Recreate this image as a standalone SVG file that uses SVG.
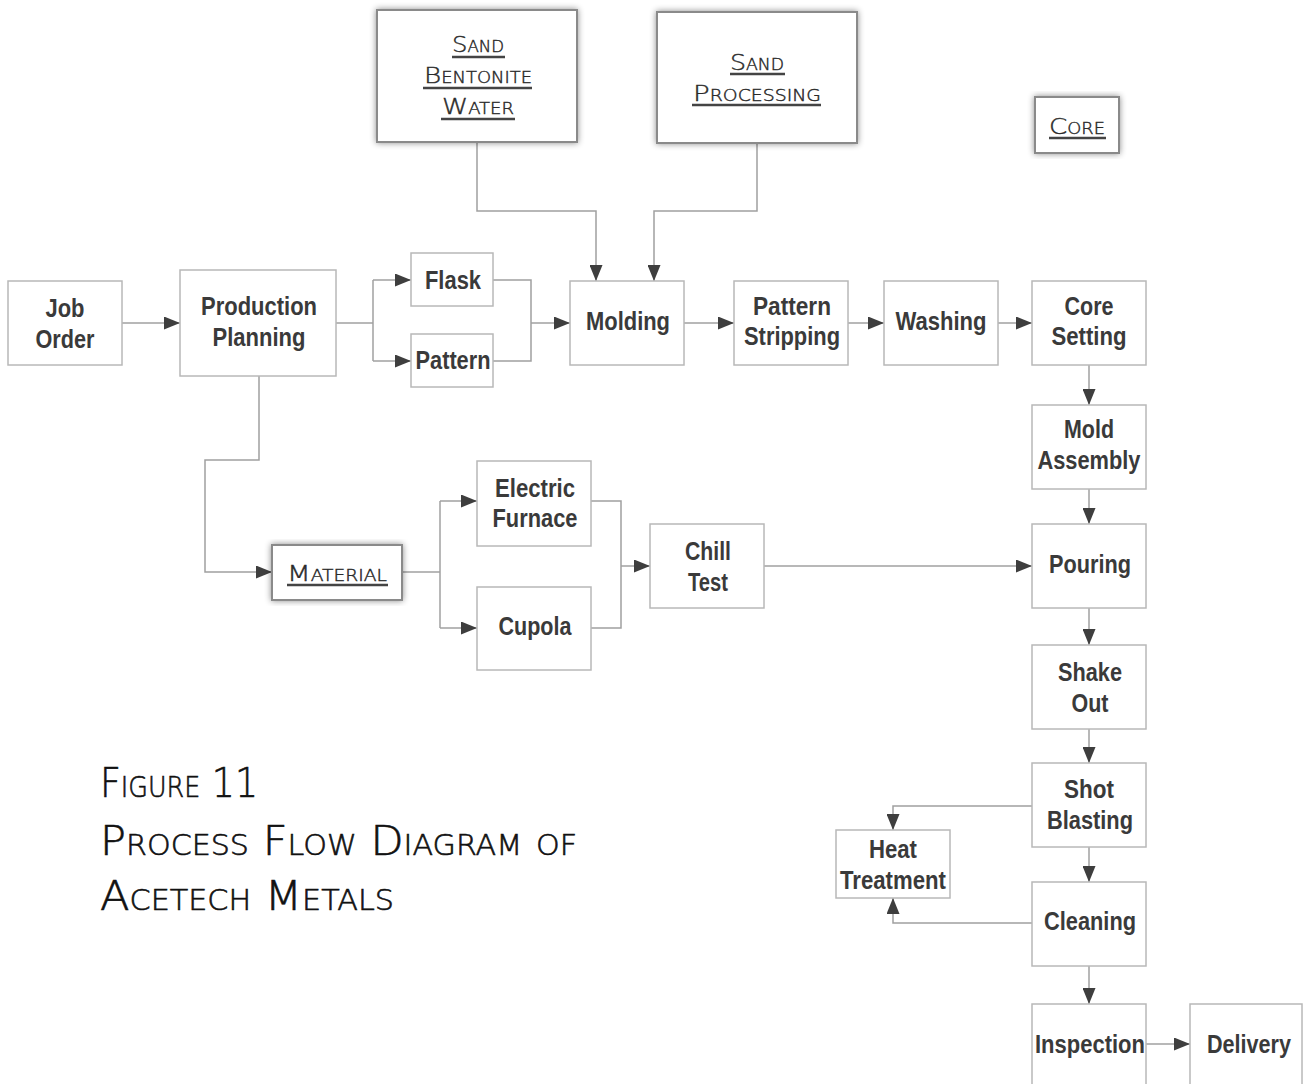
<svg xmlns="http://www.w3.org/2000/svg" width="1312" height="1084" viewBox="0 0 1312 1084">
  <style>
    .box { fill: #ffffff; stroke: #b8b8b8; stroke-width: 1.5; }
    .sbox { fill: #ffffff; stroke: #8a8a8a; stroke-width: 2; }
    .lbl { font-family: "Liberation Sans", Arial, sans-serif; font-weight: bold; font-size: 26px; fill: #3a3a3a; text-anchor: middle; }
    .hand { font-family: "DejaVu Sans", "Liberation Sans", sans-serif; font-weight: 200; font-variant: small-caps; fill: #2a2a2a; stroke: #2a2a2a; stroke-width: 0.4; text-anchor: middle; }
    .ul { stroke: #444444; stroke-width: 2.5; }
    .cap { font-family: "DejaVu Sans", "Liberation Sans", sans-serif; font-weight: 200; font-variant: small-caps; font-size: 40px; fill: #111111; stroke: #111111; stroke-width: 0.6; }
    .wire { fill: none; stroke: #a0a0a0; stroke-width: 1.5; }
  </style>
  <defs>
    <marker id="arr" viewBox="0 0 16 13" refX="16" refY="6.5" markerWidth="16" markerHeight="13" markerUnits="userSpaceOnUse" orient="auto">
      <path d="M0,0 L16,6.5 L0,13 Z" fill="#3e3e3e"/>
    </marker>
    <filter id="shade" x="-10%" y="-10%" width="120%" height="120%">
      <feDropShadow dx="0" dy="0" stdDeviation="3" flood-color="#000000" flood-opacity="0.45"/>
    </filter>
  </defs>

  <rect width="1312" height="1084" fill="#ffffff"/>

  <!-- connectors -->
  <g id="connectors">
    <line class="wire" x1="122" y1="323" x2="180" y2="323" marker-end="url(#arr)"/>
    <path class="wire" d="M336,323 H373"/>
    <path class="wire" d="M373,280 V361"/>
    <line class="wire" x1="373" y1="280" x2="411" y2="280" marker-end="url(#arr)"/>
    <line class="wire" x1="373" y1="361" x2="411" y2="361" marker-end="url(#arr)"/>
    <path class="wire" d="M493,280 H531 V361 H493"/>
    <line class="wire" x1="531" y1="323" x2="570" y2="323" marker-end="url(#arr)"/>
    <path class="wire" d="M477,142 V211 H596 V281" marker-end="url(#arr)"/>
    <path class="wire" d="M757,143 V211 H654 V281" marker-end="url(#arr)"/>
    <line class="wire" x1="684" y1="323" x2="734" y2="323" marker-end="url(#arr)"/>
    <line class="wire" x1="848" y1="323" x2="884" y2="323" marker-end="url(#arr)"/>
    <line class="wire" x1="998" y1="323" x2="1032" y2="323" marker-end="url(#arr)"/>
    <line class="wire" x1="1089" y1="365" x2="1089" y2="405" marker-end="url(#arr)"/>
    <line class="wire" x1="1089" y1="489" x2="1089" y2="524" marker-end="url(#arr)"/>
    <line class="wire" x1="1089" y1="608" x2="1089" y2="645" marker-end="url(#arr)"/>
    <line class="wire" x1="1089" y1="729" x2="1089" y2="763" marker-end="url(#arr)"/>
    <line class="wire" x1="1089" y1="847" x2="1089" y2="882" marker-end="url(#arr)"/>
    <line class="wire" x1="1089" y1="966" x2="1089" y2="1004" marker-end="url(#arr)"/>
    <path class="wire" d="M1032,806 H893 V830" marker-end="url(#arr)"/>
    <path class="wire" d="M1032,923 H893 V898" marker-end="url(#arr)"/>
    <line class="wire" x1="1146" y1="1044" x2="1190" y2="1044" marker-end="url(#arr)"/>
    <path class="wire" d="M259,376 V460 H205 V572 H272" marker-end="url(#arr)"/>
    <path class="wire" d="M402,572 H440"/>
    <path class="wire" d="M440,501 V628"/>
    <line class="wire" x1="440" y1="501" x2="477" y2="501" marker-end="url(#arr)"/>
    <line class="wire" x1="440" y1="628" x2="477" y2="628" marker-end="url(#arr)"/>
    <path class="wire" d="M591,501 H621 V628 H591"/>
    <line class="wire" x1="621" y1="566" x2="650" y2="566" marker-end="url(#arr)"/>
    <line class="wire" x1="764" y1="566" x2="1032" y2="566" marker-end="url(#arr)"/>
  </g>

  <!-- input boxes -->
  <g id="sand-bentonite-water">
    <rect class="sbox" x="377" y="10" width="200" height="132" filter="url(#shade)"/>
    <text class="hand" x="478" y="52" font-size="22" textLength="52" lengthAdjust="spacingAndGlyphs">Sand</text>
    <line class="ul" x1="452" y1="57" x2="505" y2="57"/>
    <text class="hand" x="478" y="83" font-size="22" textLength="108" lengthAdjust="spacingAndGlyphs">Bentonite</text>
    <line class="ul" x1="423" y1="88" x2="532" y2="88"/>
    <text class="hand" x="478" y="114" font-size="22" textLength="72" lengthAdjust="spacingAndGlyphs">Water</text>
    <line class="ul" x1="441" y1="119" x2="515" y2="119"/>
  </g>
  <g id="sand-processing">
    <rect class="sbox" x="657" y="12" width="200" height="131" filter="url(#shade)"/>
    <text class="hand" x="757" y="70" font-size="22" textLength="54" lengthAdjust="spacingAndGlyphs">Sand</text>
    <line class="ul" x1="730" y1="74" x2="785" y2="74"/>
    <text class="hand" x="757" y="101" font-size="22" textLength="128" lengthAdjust="spacingAndGlyphs">Processing</text>
    <line class="ul" x1="692" y1="105" x2="821" y2="105"/>
  </g>
  <g id="core">
    <rect class="sbox" x="1035" y="97" width="84" height="56" stroke-width="1.5" filter="url(#shade)"/>
    <text class="hand" x="1077" y="134" font-size="22" textLength="56" lengthAdjust="spacingAndGlyphs">Core</text>
    <line class="ul" x1="1049" y1="138" x2="1106" y2="138"/>
  </g>
  <g id="material">
    <rect class="sbox" x="272" y="545" width="130" height="55" filter="url(#shade)"/>
    <text class="hand" x="337" y="581" font-size="22" textLength="100" lengthAdjust="spacingAndGlyphs">Material</text>
    <line class="ul" x1="287" y1="585" x2="388" y2="585"/>
  </g>

  <!-- process boxes -->
  <g id="job-order">
    <rect class="box" x="8" y="281" width="114" height="84"/>
    <text class="lbl" x="65" y="317" textLength="39" lengthAdjust="spacingAndGlyphs">Job</text>
    <text class="lbl" x="65" y="348" textLength="59" lengthAdjust="spacingAndGlyphs">Order</text>
  </g>
  <g id="production-planning">
    <rect class="box" x="180" y="270" width="156" height="106"/>
    <text class="lbl" x="259" y="315" textLength="116" lengthAdjust="spacingAndGlyphs">Production</text>
    <text class="lbl" x="259" y="346" textLength="93" lengthAdjust="spacingAndGlyphs">Planning</text>
  </g>
  <g id="flask">
    <rect class="box" x="411" y="253" width="82" height="53"/>
    <text class="lbl" x="453" y="289" textLength="56" lengthAdjust="spacingAndGlyphs">Flask</text>
  </g>
  <g id="pattern">
    <rect class="box" x="411" y="334" width="82" height="53"/>
    <text class="lbl" x="453" y="369" textLength="75" lengthAdjust="spacingAndGlyphs">Pattern</text>
  </g>
  <g id="molding">
    <rect class="box" x="570" y="281" width="114" height="84"/>
    <text class="lbl" x="628" y="330" textLength="84" lengthAdjust="spacingAndGlyphs">Molding</text>
  </g>
  <g id="pattern-stripping">
    <rect class="box" x="734" y="281" width="114" height="84"/>
    <text class="lbl" x="792" y="315" textLength="78" lengthAdjust="spacingAndGlyphs">Pattern</text>
    <text class="lbl" x="792" y="345" textLength="96" lengthAdjust="spacingAndGlyphs">Stripping</text>
  </g>
  <g id="washing">
    <rect class="box" x="884" y="281" width="114" height="84"/>
    <text class="lbl" x="941" y="330" textLength="91" lengthAdjust="spacingAndGlyphs">Washing</text>
  </g>
  <g id="core-setting">
    <rect class="box" x="1032" y="281" width="114" height="84"/>
    <text class="lbl" x="1089" y="315" textLength="49" lengthAdjust="spacingAndGlyphs">Core</text>
    <text class="lbl" x="1089" y="345" textLength="75" lengthAdjust="spacingAndGlyphs">Setting</text>
  </g>
  <g id="mold-assembly">
    <rect class="box" x="1032" y="405" width="114" height="84"/>
    <text class="lbl" x="1089" y="438" textLength="50" lengthAdjust="spacingAndGlyphs">Mold</text>
    <text class="lbl" x="1089" y="469" textLength="103" lengthAdjust="spacingAndGlyphs">Assembly</text>
  </g>
  <g id="pouring">
    <rect class="box" x="1032" y="524" width="114" height="84"/>
    <text class="lbl" x="1090" y="573" textLength="82" lengthAdjust="spacingAndGlyphs">Pouring</text>
  </g>
  <g id="shake-out">
    <rect class="box" x="1032" y="645" width="114" height="84"/>
    <text class="lbl" x="1090" y="681" textLength="64" lengthAdjust="spacingAndGlyphs">Shake</text>
    <text class="lbl" x="1090" y="712" textLength="37" lengthAdjust="spacingAndGlyphs">Out</text>
  </g>
  <g id="shot-blasting">
    <rect class="box" x="1032" y="763" width="114" height="84"/>
    <text class="lbl" x="1089" y="798" textLength="50" lengthAdjust="spacingAndGlyphs">Shot</text>
    <text class="lbl" x="1090" y="829" textLength="86" lengthAdjust="spacingAndGlyphs">Blasting</text>
  </g>
  <g id="heat-treatment">
    <rect class="box" x="836" y="830" width="114" height="68"/>
    <text class="lbl" x="893" y="858" textLength="48" lengthAdjust="spacingAndGlyphs">Heat</text>
    <text class="lbl" x="893" y="889" textLength="106" lengthAdjust="spacingAndGlyphs">Treatment</text>
  </g>
  <g id="cleaning">
    <rect class="box" x="1032" y="882" width="114" height="84"/>
    <text class="lbl" x="1090" y="930" textLength="92" lengthAdjust="spacingAndGlyphs">Cleaning</text>
  </g>
  <g id="inspection">
    <rect class="box" x="1032" y="1004" width="114" height="90"/>
    <text class="lbl" x="1090" y="1053" textLength="110" lengthAdjust="spacingAndGlyphs">Inspection</text>
  </g>
  <g id="delivery">
    <rect class="box" x="1190" y="1004" width="112" height="90"/>
    <text class="lbl" x="1249" y="1053" textLength="84" lengthAdjust="spacingAndGlyphs">Delivery</text>
  </g>
  <g id="electric-furnace">
    <rect class="box" x="477" y="461" width="114" height="85"/>
    <text class="lbl" x="535" y="497" textLength="80" lengthAdjust="spacingAndGlyphs">Electric</text>
    <text class="lbl" x="535" y="527" textLength="85" lengthAdjust="spacingAndGlyphs">Furnace</text>
  </g>
  <g id="cupola">
    <rect class="box" x="477" y="587" width="114" height="83"/>
    <text class="lbl" x="535" y="635" textLength="73" lengthAdjust="spacingAndGlyphs">Cupola</text>
  </g>
  <g id="chill-test">
    <rect class="box" x="650" y="524" width="114" height="84"/>
    <text class="lbl" x="708" y="560" textLength="46" lengthAdjust="spacingAndGlyphs">Chill</text>
    <text class="lbl" x="708" y="591" textLength="40" lengthAdjust="spacingAndGlyphs">Test</text>
  </g>

  <!-- caption -->
  <g id="caption">
    <text class="cap" x="100" y="797" textLength="158" lengthAdjust="spacingAndGlyphs">Figure 11</text>
    <text class="cap" x="100" y="855" textLength="477" lengthAdjust="spacingAndGlyphs">Process Flow Diagram of</text>
    <text class="cap" x="100" y="910" textLength="294" lengthAdjust="spacingAndGlyphs">Acetech Metals</text>
  </g>
</svg>
